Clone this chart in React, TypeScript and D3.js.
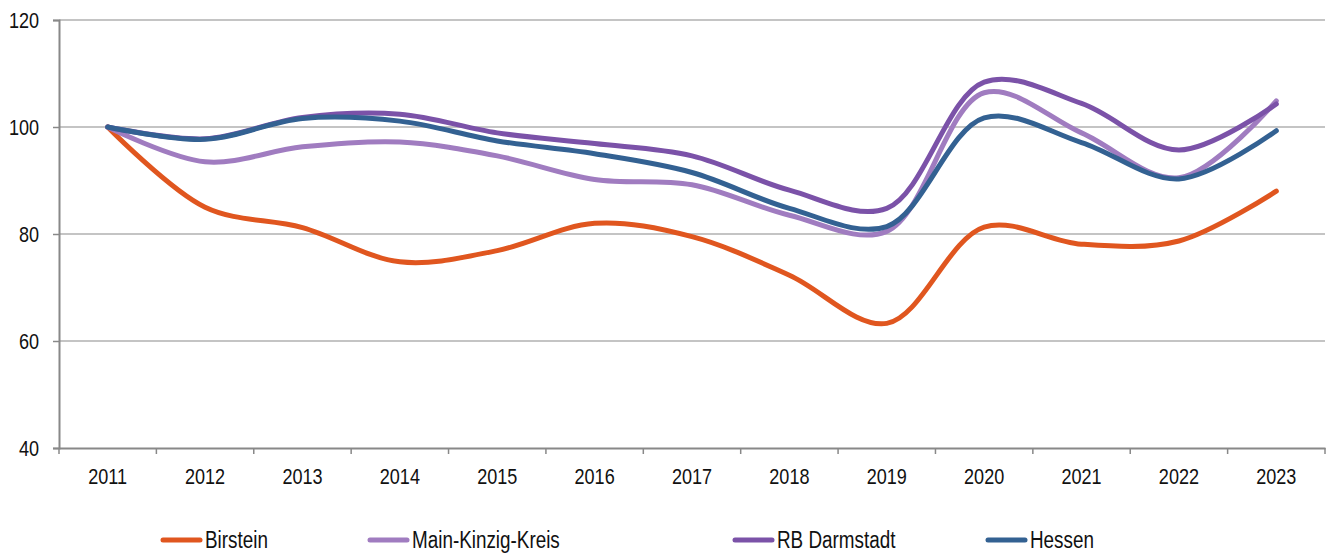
import React, { useEffect, useRef } from "react";
import * as d3 from "d3";

const years = ["2011", "2012", "2013", "2014", "2015", "2016", "2017", "2018", "2019", "2020", "2021", "2022", "2023"];
const birstein = [100, 85.0, 81.2, 74.8, 76.9, 82.0, 79.5, 72.3, 63.3, 81.3, 78.1, 78.7, 88.0];
const mainKinzig = [100, 93.5, 96.3, 97.2, 94.6, 90.2, 89.2, 83.5, 80.5, 106.4, 98.9, 90.5, 104.9];
const rbDarmstadt = [100, 97.8, 101.8, 102.4, 98.9, 96.9, 94.6, 88.2, 84.8, 108.4, 104.4, 95.7, 104.3];
const hessen = [100, 97.7, 101.6, 101.1, 97.4, 95.0, 91.5, 84.8, 81.4, 101.7, 97.1, 90.3, 99.3];
const yTicks = [40, 60, 80, 100, 120];

const seriesNames = ["Birstein", "Main-Kinzig-Kreis", "RB Darmstadt", "Hessen"];
const seriesValues = [birstein, mainKinzig, rbDarmstadt, hessen];
const colors = ["#e0561f", "#a07cc0", "#7b52a8", "#336192"];

const W = 1329;
const H = 556;
const FONT = "'Liberation Sans', Arial, sans-serif";
const NARROW = 0.82;

// squeeze text horizontally to mimic Arial Narrow
function narrow(sel: d3.Selection<any, any, any, any>) {
  sel.each(function (this: any) {
    const len = this.getComputedTextLength();
    d3.select(this)
      .attr("textLength", len * NARROW)
      .attr("lengthAdjust", "spacingAndGlyphs");
  });
}

export default function App() {
  const ref = useRef<SVGSVGElement>(null);

  useEffect(() => {
    const svg = d3.select(ref.current);
    svg.selectAll("*").remove();

    const left = 59, right = 1325, top = 20, bottom = 448;

    const x = d3.scaleBand().domain(years).range([left, right]);
    const y = d3.scaleLinear().domain([40, 120]).range([bottom, top]);

    // gridlines
    svg.append("g")
      .selectAll("line")
      .data(yTicks.filter((t) => t !== 40))
      .enter()
      .append("line")
      .attr("x1", left)
      .attr("x2", right)
      .attr("y1", (d) => y(d))
      .attr("y2", (d) => y(d))
      .attr("stroke", "#b0b0b0")
      .attr("stroke-width", 1.3);

    // y axis
    const yAxis = svg.append("g")
      .attr("transform", `translate(${left},0)`)
      .call(d3.axisLeft(y).tickValues(yTicks).tickSize(6).tickPadding(14));
    yAxis.select(".domain").attr("stroke", "#888").attr("stroke-width", 2);
    yAxis.selectAll(".tick line").attr("stroke", "#888").attr("stroke-width", 1.5);
    yAxis.selectAll("text")
      .attr("font-family", FONT)
      .attr("font-size", 22)
      .attr("fill", "#111")
      .call(narrow);

    // x axis
    const xAxis = svg.append("g")
      .attr("transform", `translate(0,${bottom})`)
      .call(d3.axisBottom(x).tickSize(0).tickPadding(0));
    xAxis.select(".domain").attr("stroke", "#888").attr("stroke-width", 2);
    xAxis.selectAll("text")
      .attr("font-family", FONT)
      .attr("font-size", 22)
      .attr("fill", "#111")
      .attr("dy", 0)
      .attr("y", 36)
      .call(narrow);
    // tick marks at band boundaries
    const bounds = years.map((yr) => x(yr) as number).concat([right]);
    xAxis.selectAll(".bnd")
      .data(bounds)
      .enter()
      .append("line")
      .attr("x1", (d) => d)
      .attr("x2", (d) => d)
      .attr("y1", 0)
      .attr("y2", 6)
      .attr("stroke", "#888")
      .attr("stroke-width", 1.5);

    const line = d3.line<number>()
      .x((_, i) => (x(years[i]) as number) + x.bandwidth() / 2)
      .y((d) => y(d))
      .curve(d3.curveCatmullRom.alpha(0.5));

    seriesValues.forEach((vals, i) => {
      svg.append("path")
        .datum(vals)
        .attr("d", line)
        .attr("fill", "none")
        .attr("stroke", colors[i])
        .attr("stroke-width", 5)
        .attr("stroke-linecap", "round")
        .attr("stroke-linejoin", "round");
    });

    // legend
    const legendX = [163, 370, 735, 988];
    const lg = svg.append("g");
    seriesNames.forEach((name, i) => {
      lg.append("line")
        .attr("x1", legendX[i])
        .attr("x2", legendX[i] + 37)
        .attr("y1", 540)
        .attr("y2", 540)
        .attr("stroke", colors[i])
        .attr("stroke-width", 5)
        .attr("stroke-linecap", "round");
      lg.append("text")
        .attr("x", legendX[i] + 42)
        .attr("y", 548)
        .attr("font-family", FONT)
        .attr("font-size", 23)
        .attr("fill", "#111")
        .text(name)
        .call(narrow);
    });
  }, []);

  return (
    <svg
      ref={ref}
      width={W}
      height={H}
      style={{ position: "absolute", left: 0, top: 0, background: "#fff" }}
    />
  );
}
